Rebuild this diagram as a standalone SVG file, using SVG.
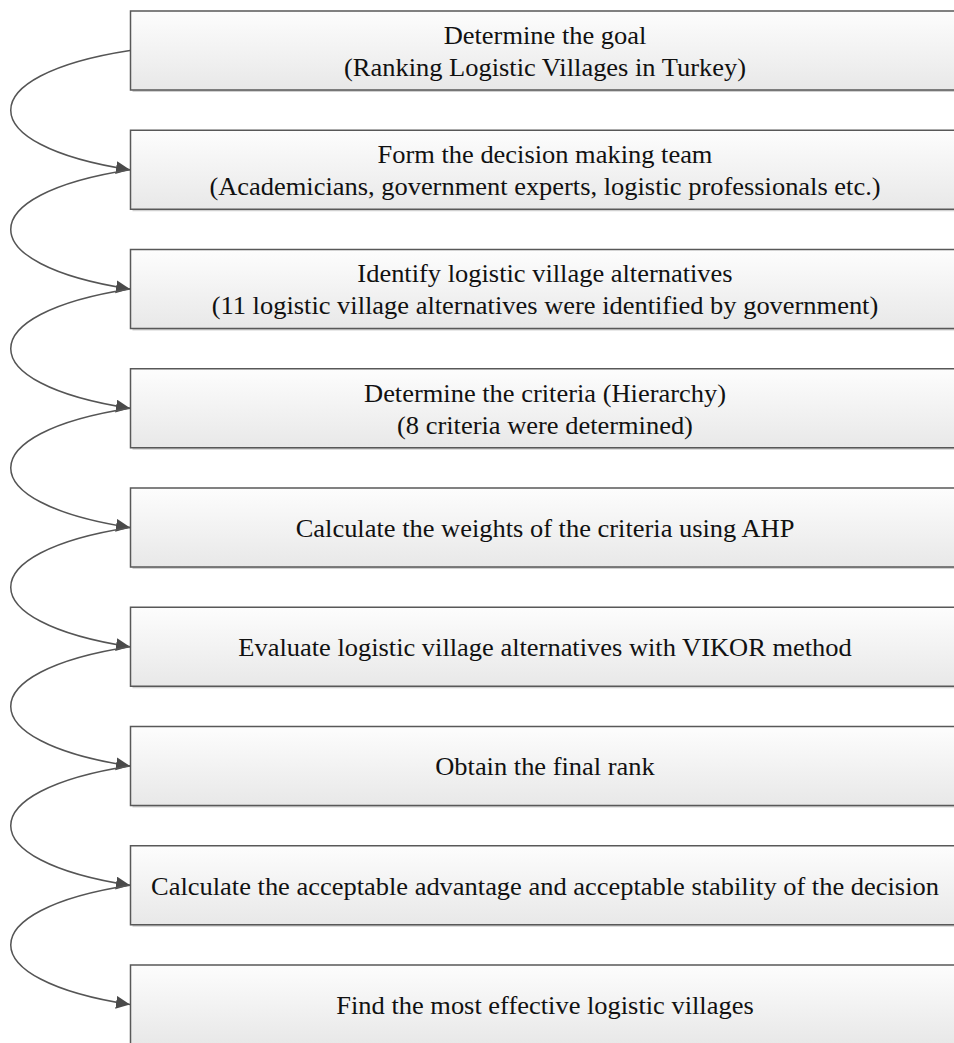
<svg xmlns="http://www.w3.org/2000/svg" width="954" height="1043" viewBox="0 0 954 1043">
<defs>
<linearGradient id="boxfill" x1="0" y1="0" x2="0" y2="1">
<stop offset="0" stop-color="#fdfdfd"/>
<stop offset="1" stop-color="#e8e8e8"/>
</linearGradient>
<marker id="arrow" markerUnits="userSpaceOnUse" markerWidth="15" markerHeight="14" refX="14" refY="6.5" orient="auto">
<path d="M0,0 L14,6.5 L0,13 z" fill="#4a4a4a"/>
</marker>
</defs>
<style>
.box{fill:url(#boxfill);stroke:#585858;stroke-width:1.5}
.shadow{fill:#9a9a9a;opacity:0.45}
.lbl{font-family:"Liberation Serif","Times New Roman",serif;font-size:24.5px;fill:#111111;text-anchor:middle}
.conn{fill:none;stroke:#555;stroke-width:1.5;marker-end:url(#arrow)}
</style>
<rect width="954" height="1043" fill="#ffffff"/>

<g id="node1">
<rect class="shadow" x="132.5" y="13" width="830" height="79"/>
<rect class="box" x="130.5" y="11" width="830" height="79"/>
<g transform="translate(545,0) scale(1.08,1)"><text class="lbl" x="0" y="44.5">Determine the goal</text><text class="lbl" x="0" y="76.5">(Ranking Logistic Villages in Turkey)</text></g>
</g>
<g id="node2">
<rect class="shadow" x="132.5" y="132.25" width="830" height="79"/>
<rect class="box" x="130.5" y="130.25" width="830" height="79"/>
<g transform="translate(545,0) scale(1.08,1)"><text class="lbl" x="0" y="163.5">Form the decision making team</text><text class="lbl" x="0" y="195.5">(Academicians, government experts, logistic professionals etc.)</text></g>
</g>
<g id="node3">
<rect class="shadow" x="132.5" y="251.5" width="830" height="79"/>
<rect class="box" x="130.5" y="249.5" width="830" height="79"/>
<g transform="translate(545,0) scale(1.08,1)"><text class="lbl" x="0" y="282.5">Identify logistic village alternatives</text><text class="lbl" x="0" y="314.5">(11 logistic village alternatives were identified by government)</text></g>
</g>
<g id="node4">
<rect class="shadow" x="132.5" y="370.75" width="830" height="79"/>
<rect class="box" x="130.5" y="368.75" width="830" height="79"/>
<g transform="translate(545,0) scale(1.08,1)"><text class="lbl" x="0" y="401.75">Determine the criteria (Hierarchy)</text><text class="lbl" x="0" y="433.75">(8 criteria were determined)</text></g>
</g>
<g id="node5">
<rect class="shadow" x="132.5" y="490" width="830" height="79"/>
<rect class="box" x="130.5" y="488" width="830" height="79"/>
<g transform="translate(545,0) scale(1.08,1)"><text class="lbl" x="0" y="537">Calculate the weights of the criteria using AHP</text></g>
</g>
<g id="node6">
<rect class="shadow" x="132.5" y="609.25" width="830" height="79"/>
<rect class="box" x="130.5" y="607.25" width="830" height="79"/>
<g transform="translate(545,0) scale(1.08,1)"><text class="lbl" x="0" y="656.5">Evaluate logistic village alternatives with VIKOR method</text></g>
</g>
<g id="node7">
<rect class="shadow" x="132.5" y="728.5" width="830" height="79"/>
<rect class="box" x="130.5" y="726.5" width="830" height="79"/>
<g transform="translate(545,0) scale(1.08,1)"><text class="lbl" x="0" y="775.5">Obtain the final rank</text></g>
</g>
<g id="node8">
<rect class="shadow" x="132.5" y="847.75" width="830" height="79"/>
<rect class="box" x="130.5" y="845.75" width="830" height="79"/>
<g transform="translate(545,0) scale(1.08,1)"><text class="lbl" x="0" y="894.75">Calculate the acceptable advantage and acceptable stability of the decision</text></g>
</g>
<g id="node9">
<rect class="shadow" x="132.5" y="967" width="830" height="79"/>
<rect class="box" x="130.5" y="965" width="830" height="79"/>
<g transform="translate(545,0) scale(1.08,1)"><text class="lbl" x="0" y="1014">Find the most effective logistic villages</text></g>
</g>

<g id="connectors">
<path class="conn" d="M130,50.5 C-29,75 -29,145.25 130,169.75"/>
<path class="conn" d="M130,169.75 C-29,194.25 -29,264.5 130,289"/>
<path class="conn" d="M130,289 C-29,313.5 -29,383.75 130,408.25"/>
<path class="conn" d="M130,408.25 C-29,432.75 -29,503 130,527.5"/>
<path class="conn" d="M130,527.5 C-29,552 -29,622.25 130,646.75"/>
<path class="conn" d="M130,646.75 C-29,671.25 -29,741.5 130,766"/>
<path class="conn" d="M130,766 C-29,790.5 -29,860.75 130,885.25"/>
<path class="conn" d="M130,885.25 C-29,909.75 -29,980 130,1004.5"/>
</g>
</svg>
